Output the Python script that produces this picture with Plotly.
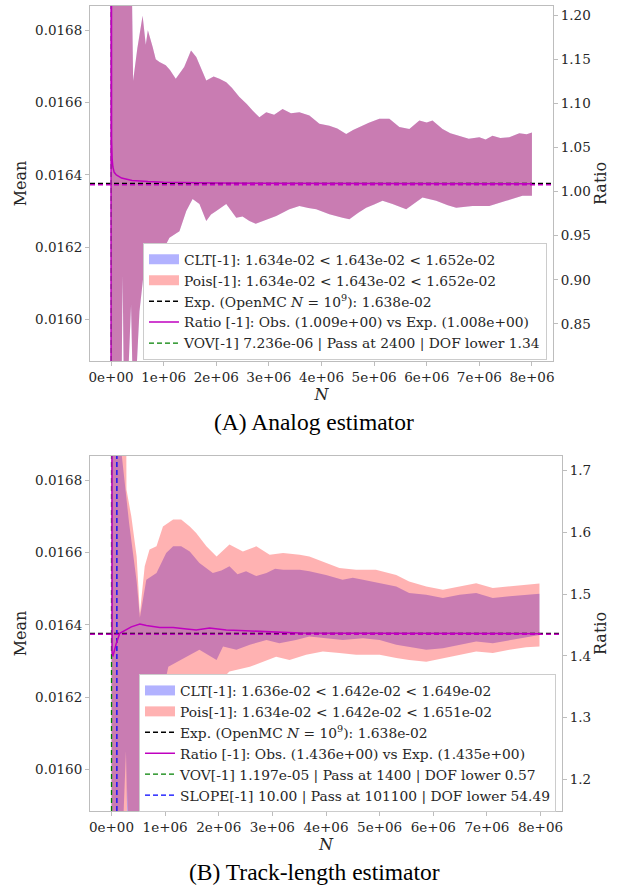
import plotly.graph_objects as go

# ---------------- data ----------------
x_tick_vals = [0, 1e6, 2e6, 3e6, 4e6, 5e6, 6e6, 7e6, 8e6]
x_tick_text = ["0e+00", "1e+06", "2e+06", "3e+06", "4e+06", "5e+06", "6e+06", "7e+06", "8e+06"]
mean_tick_vals = [0.0160, 0.0162, 0.0164, 0.0166, 0.0168]
mean_tick_text = ["0.0160", "0.0162", "0.0164", "0.0166", "0.0168"]
top_ratio_tick_vals = [0.85, 0.90, 0.95, 1.00, 1.05, 1.10, 1.15, 1.20]
top_ratio_tick_text = ["0.85", "0.90", "0.95", "1.00", "1.05", "1.10", "1.15", "1.20"]
bot_ratio_tick_vals = [1.2, 1.3, 1.4, 1.5, 1.6, 1.7]
bot_ratio_tick_text = ["1.2", "1.3", "1.4", "1.5", "1.6", "1.7"]

# (A) analog estimator: CLT and Poisson bands coincide (N in millions)
a_up_n = [0.0, 0.30, 0.37, 0.42, 0.50, 0.60, 0.66, 0.70, 0.79, 0.85, 0.92, 1.04, 1.12, 1.23, 1.39,
          1.52, 1.62, 1.70, 1.81, 1.95, 2.06, 2.19, 2.30, 2.44, 2.58, 2.69, 2.82, 2.95, 3.10, 3.26,
          3.42, 3.58, 3.77, 3.96, 4.15, 4.30, 4.47, 4.60, 4.72, 4.90, 5.10, 5.29, 5.48, 5.67, 5.86,
          6.00, 6.11, 6.30, 6.45, 6.62, 6.80, 7.00, 7.12, 7.25, 7.40, 7.57, 7.76, 7.90, 8.00]
a_up = [0.0185, 0.0180, 0.0172, 0.01666, 0.01675, 0.01684, 0.01676, 0.01680, 0.016754, 0.016720,
        0.016712, 0.016703, 0.016690, 0.016666, 0.016698, 0.016744, 0.016726, 0.016700, 0.016661,
        0.016672, 0.016666, 0.016656, 0.016640, 0.016615, 0.016596, 0.016578, 0.016559, 0.016573,
        0.016566, 0.016582, 0.016570, 0.016573, 0.016564, 0.016541, 0.016536, 0.016528, 0.016513,
        0.016524, 0.016532, 0.016544, 0.016555, 0.016555, 0.016532, 0.016527, 0.016550, 0.016545,
        0.016550, 0.016527, 0.016515, 0.016508, 0.016500, 0.016504, 0.016498, 0.016508, 0.016502,
        0.016504, 0.016515, 0.016512, 0.016517]
a_lo_n = [0.0, 0.18, 0.22, 0.26, 0.33, 0.38, 0.43, 0.50, 0.54, 0.66, 0.76, 0.86, 1.00, 1.11, 1.30,
          1.43, 1.55, 1.68, 1.81, 1.90, 2.00, 2.19, 2.38, 2.50, 2.63, 2.75, 2.88, 3.14, 3.39, 3.58,
          3.75, 3.90, 4.15, 4.40, 4.53, 4.70, 4.85, 5.00, 5.16, 5.35, 5.61, 5.75, 5.92, 6.18, 6.40,
          6.56, 6.87, 7.19, 7.35, 7.51, 7.82, 8.00]
a_lo = [0.0150, 0.0155, 0.01612, 0.0156, 0.0157, 0.01604, 0.0157, 0.01590, 0.016022, 0.016180,
        0.016160, 0.016208, 0.016195, 0.016226, 0.016244, 0.016300, 0.016333, 0.016319, 0.016272,
        0.016290, 0.016300, 0.016319, 0.016281, 0.016285, 0.016272, 0.016265, 0.016272, 0.016286,
        0.016305, 0.016314, 0.016308, 0.016305, 0.016291, 0.016281, 0.016277, 0.016295, 0.016309,
        0.016318, 0.016328, 0.016319, 0.016305, 0.016320, 0.016337, 0.016328, 0.016316, 0.016309,
        0.016314, 0.016314, 0.016320, 0.016328, 0.016342, 0.016342]
a_ratio_n = [100, 300, 2000, 5000, 10000, 20000, 35000, 60000, 100000, 200000, 400000, 700000,
             1000000, 2000000, 4000000, 8000000]
a_ratio = [0.5, 2.0, 1.30, 1.12, 1.06, 1.038, 1.028, 1.022, 1.019, 1.0155, 1.0128, 1.0115,
           1.0108, 1.0098, 1.0093, 1.009]

# (B) track-length estimator
b_clt_up_n = [0.0, 0.10, 0.17, 0.25, 0.33, 0.40, 0.47, 0.53, 0.65, 0.84, 1.02, 1.15, 1.30, 1.46,
              1.64, 1.89, 2.05, 2.20, 2.35, 2.51, 2.70, 2.89, 3.05, 3.20, 3.51, 3.69, 4.00, 4.31,
              4.50, 4.69, 5.00, 5.31, 5.55, 5.87, 6.18, 6.49, 6.80, 7.11, 7.42, 7.73, 7.98]
b_clt_up = [0.0185, 0.0180, 0.01690, 0.01678, 0.01668, 0.01660, 0.01652, 0.01642, 0.016525,
            0.016543, 0.016599, 0.016617, 0.016617, 0.016603, 0.016571, 0.016543, 0.016550,
            0.016562, 0.016540, 0.016548, 0.016535, 0.016543, 0.016555, 0.016552, 0.016552,
            0.016548, 0.016538, 0.016525, 0.016530, 0.016525, 0.016515, 0.016506, 0.016488,
            0.016483, 0.016474, 0.016483, 0.016488, 0.016474, 0.016479, 0.016483, 0.016486]
b_clt_lo_n = [0.0, 0.20, 0.27, 0.33, 0.45, 0.60, 0.80, 1.06, 1.40, 1.64, 1.96, 2.08, 2.33, 2.58,
              2.89, 3.13, 3.44, 3.69, 4.00, 4.31, 4.69, 5.00, 5.31, 5.55, 5.87, 6.18, 6.49, 6.80,
              7.11, 7.42, 7.73, 7.98]
b_clt_lo = [0.0150, 0.0155, 0.01605, 0.0156, 0.0157, 0.01590, 0.01610, 0.016284, 0.016312,
            0.016331, 0.016303, 0.016340, 0.016331, 0.016345, 0.016358, 0.016349, 0.016358,
            0.016368, 0.016363, 0.016358, 0.016363, 0.016358, 0.016345, 0.016340, 0.016331,
            0.016335, 0.016345, 0.016354, 0.016349, 0.016358, 0.016366, 0.016372]
b_pois_up_n = [0.0, 0.25, 0.28, 0.37, 0.47, 0.53, 0.62, 0.71, 0.84, 0.96, 1.15, 1.30, 1.46, 1.58,
               1.77, 1.96, 2.20, 2.45, 2.70, 2.95, 3.20, 3.51, 3.69, 3.94, 4.25, 4.56, 4.93, 5.31,
               5.55, 5.87, 6.18, 6.49, 6.80, 7.11, 7.42, 7.73, 7.98]
b_pois_up = [0.0185, 0.0180, 0.016774, 0.01670, 0.016589, 0.016432, 0.016562, 0.016608, 0.016617,
             0.016672, 0.016691, 0.016691, 0.016672, 0.016654, 0.016617, 0.016589, 0.016622,
             0.016603, 0.016617, 0.016594, 0.016599, 0.016594, 0.016589, 0.016575, 0.016557,
             0.016552, 0.016552, 0.016538, 0.016520, 0.016506, 0.016497, 0.016506, 0.016515,
             0.016502, 0.016506, 0.016511, 0.016514]
b_pois_lo_n = [0.0, 0.25, 0.30, 0.35, 0.50, 0.80, 1.20, 1.60, 2.00, 2.20, 2.58, 2.82, 3.07, 3.32,
               3.63, 3.94, 4.25, 4.56, 5.00, 5.31, 5.55, 5.87, 6.18, 6.49, 6.80, 7.11, 7.42, 7.73,
               7.98]
b_pois_lo = [0.0149, 0.0154, 0.01595, 0.0154, 0.0155, 0.0159, 0.01610, 0.01618, 0.01624, 0.016271,
             0.016284, 0.016298, 0.016312, 0.016303, 0.016317, 0.016326, 0.016322, 0.016317,
             0.016317, 0.016308, 0.016303, 0.016298, 0.016308, 0.016317, 0.016326, 0.016322,
             0.016331, 0.016338, 0.016340]
b_ratio_n = [100, 2000, 6000, 12000, 25000, 50000, 90000, 155000, 250000, 370000, 530000, 650000,
             900000, 1150000, 1400000, 1580000, 1830000, 2140000, 2390000, 2700000, 3010000,
             3510000, 4500000, 6000000, 8000000]
b_ratio = [3.0, 1.60, 1.45, 1.405, 1.399, 1.408, 1.420, 1.4365, 1.441, 1.447, 1.4516, 1.449, 1.446,
           1.446, 1.4435, 1.442, 1.445, 1.442, 1.441, 1.440, 1.438, 1.437, 1.4365, 1.436, 1.436]

exp_mean = 0.016376
a_exp_ratio = 1.008
b_exp_ratio = 1.435
a_vov_pass = 2400
b_vov_pass = 1400
b_slope_pass = 101100

a_labels = ["CLT[-1]: 1.634e-02 < 1.643e-02 < 1.652e-02",
            "Pois[-1]: 1.634e-02 < 1.643e-02 < 1.652e-02",
            "Exp. (OpenMC <i>N</i> = 10<sup>9</sup>): 1.638e-02",
            "Ratio [-1]: Obs. (1.009e+00) vs Exp. (1.008e+00)",
            "VOV[-1] 7.236e-06 | Pass at 2400 | DOF lower 1.34"]
b_labels = ["CLT[-1]: 1.636e-02 < 1.642e-02 < 1.649e-02",
            "Pois[-1]: 1.634e-02 < 1.642e-02 < 1.651e-02",
            "Exp. (OpenMC <i>N</i> = 10<sup>9</sup>): 1.638e-02",
            "Ratio [-1]: Obs. (1.436e+00) vs Exp. (1.435e+00)",
            "VOV[-1] 1.197e-05 | Pass at 1400 | DOF lower 0.57",
            "SLOPE[-1] 10.00 | Pass at 101100 | DOF lower 54.49"]
captions = ["(A) Analog estimator", "(B) Track-length estimator"]

# ---------------- style ----------------
X_RANGE = [-0.4e6, 8.4e6]
MEAN_RANGE = [0.015885, 0.016867]
A_RATIO_RANGE = [0.8078, 1.2108]
B_RATIO_RANGE = [1.1486, 1.7238]
FONT = "DejaVu Serif"
TXT = "#262626"
SPINE = "#bdbdbd"
BLUE_FILL = "rgba(0,0,255,0.3)"
RED_FILL = "rgba(255,0,0,0.3)"
MAGENTA = "#BF00BF"
DASH = "5px,3px"
M = 1e6

fig = go.Figure()


def legend_patch(color, name, xa, ya, leg, rank):
    # legend-only swatch (thick line) for a filled band
    fig.add_trace(go.Scatter(x=[None], y=[None], mode="lines", line=dict(color=color, width=10),
                             name=name, xaxis=xa, yaxis=ya, legend=leg, legendrank=rank))


def band(nu, up, nl, lo, color, xa, ya):
    xs = [v * M for v in nu] + [v * M for v in nl[::-1]]
    ys = list(up) + list(lo[::-1])
    fig.add_trace(go.Scatter(x=xs, y=ys, mode="lines", fill="toself", fillcolor=color,
                             line=dict(width=0, color=color), showlegend=False,
                             xaxis=xa, yaxis=ya, hoverinfo="skip"))


def hline(y, color, xa, ya, leg, name="", show=True, rank=3):
    fig.add_trace(go.Scatter(x=X_RANGE, y=[y, y], mode="lines",
                             line=dict(color=color, width=1.5, dash=DASH),
                             name=name, showlegend=show, xaxis=xa, yaxis=ya, legend=leg,
                             legendrank=rank))


def vline(x, color, name, xa, ya, leg, rank):
    fig.add_trace(go.Scatter(x=[x, x], y=MEAN_RANGE, mode="lines",
                             line=dict(color=color, width=1.3, dash=DASH),
                             name=name, xaxis=xa, yaxis=ya, legend=leg, legendrank=rank))


# panel A
legend_patch(BLUE_FILL, a_labels[0], "x", "y", "legend", 1)
legend_patch(RED_FILL, a_labels[1], "x", "y", "legend", 2)
band(a_up_n, a_up, a_lo_n, a_lo, BLUE_FILL, "x", "y")
band(a_up_n, a_up, a_lo_n, a_lo, RED_FILL, "x", "y")
hline(exp_mean, "black", "x", "y", "legend", a_labels[2], rank=3)
fig.add_trace(go.Scatter(x=a_ratio_n, y=a_ratio, mode="lines", line=dict(color=MAGENTA, width=1.5),
                         name=a_labels[3], xaxis="x", yaxis="y3", legend="legend", legendrank=4))
vline(a_vov_pass, "#008000", a_labels[4], "x", "y", "legend", 5)
hline(a_exp_ratio, MAGENTA, "x", "y3", "legend", show=False, rank=9)

# panel B
legend_patch(BLUE_FILL, b_labels[0], "x2", "y2", "legend2", 1)
legend_patch(RED_FILL, b_labels[1], "x2", "y2", "legend2", 2)
band(b_clt_up_n, b_clt_up, b_clt_lo_n, b_clt_lo, BLUE_FILL, "x2", "y2")
band(b_pois_up_n, b_pois_up, b_pois_lo_n, b_pois_lo, RED_FILL, "x2", "y2")
hline(exp_mean, "black", "x2", "y2", "legend2", b_labels[2], rank=3)
fig.add_trace(go.Scatter(x=b_ratio_n, y=b_ratio, mode="lines", line=dict(color=MAGENTA, width=1.5),
                         name=b_labels[3], xaxis="x2", yaxis="y4", legend="legend2", legendrank=4))
vline(b_vov_pass, "#008000", b_labels[4], "x2", "y2", "legend2", 5)
vline(b_slope_pass, "#0000FF", b_labels[5], "x2", "y2", "legend2", 6)
hline(b_exp_ratio, MAGENTA, "x2", "y4", "legend2", show=False, rank=9)

tickfont = dict(family=FONT, size=13.5, color=TXT)
titlefont = dict(family=FONT, size=16, color=TXT)
common = dict(showline=True, linecolor=SPINE, linewidth=1, ticks="outside", ticklen=4,
              tickwidth=1, tickcolor=SPINE, showgrid=False, zeroline=False, tickfont=tickfont)

xcommon = dict(common, range=X_RANGE, tickvals=x_tick_vals, ticktext=x_tick_text, mirror=True,
               title=dict(text="<i>N</i>", font=titlefont, standoff=2))
ycommon = dict(common, range=MEAN_RANGE, tickvals=mean_tick_vals, ticktext=mean_tick_text,
               mirror=True, title=dict(text="Mean", font=titlefont, standoff=4))

legend_style = dict(font=dict(family=FONT, size=13.8, color=TXT), bgcolor="white",
                    bordercolor="#cccccc", borderwidth=1, xanchor="right", yanchor="bottom",
                    tracegroupgap=0, itemwidth=30)

fig.update_layout(
    width=620, height=886,
    margin=dict(l=90, r=58, t=6, b=75),
    paper_bgcolor="white", plot_bgcolor="white",
    xaxis=dict(xcommon, domain=[0, 0.9809], anchor="y"),
    yaxis=dict(ycommon, domain=[0.559, 1.0], anchor="x"),
    yaxis3=dict(common, overlaying="y", side="right", anchor="x", range=A_RATIO_RANGE,
                tickvals=top_ratio_tick_vals, ticktext=top_ratio_tick_text,
                title=dict(text="Ratio", font=titlefont, standoff=3)),
    xaxis2=dict(xcommon, domain=[0, 1.0], anchor="y2"),
    yaxis2=dict(ycommon, domain=[0.0, 0.441], anchor="x2"),
    yaxis4=dict(common, overlaying="y2", side="right", anchor="x2", range=B_RATIO_RANGE,
                tickvals=bot_ratio_tick_vals, ticktext=bot_ratio_tick_text,
                title=dict(text="Ratio", font=titlefont, standoff=3)),
    legend=dict(legend_style, x=0.9682, y=0.5605),
    legend2=dict(legend_style, x=0.9873, y=-0.0012),
    annotations=[
        dict(text=captions[0], x=0.4746, y=0.4836, xref="paper", yref="paper", showarrow=False,
             xanchor="center", yanchor="middle",
             font=dict(family="Liberation Serif", size=23.5, color="black")),
        dict(text=captions[1], x=0.4746, y=-0.0754, xref="paper", yref="paper", showarrow=False,
             xanchor="center", yanchor="middle",
             font=dict(family="Liberation Serif", size=23.5, color="black")),
    ],
)

fig.write_html("out.html", config={"displayModeBar": False},
               post_script="document.body.style.margin='0px';document.body.style.overflow='hidden';")
